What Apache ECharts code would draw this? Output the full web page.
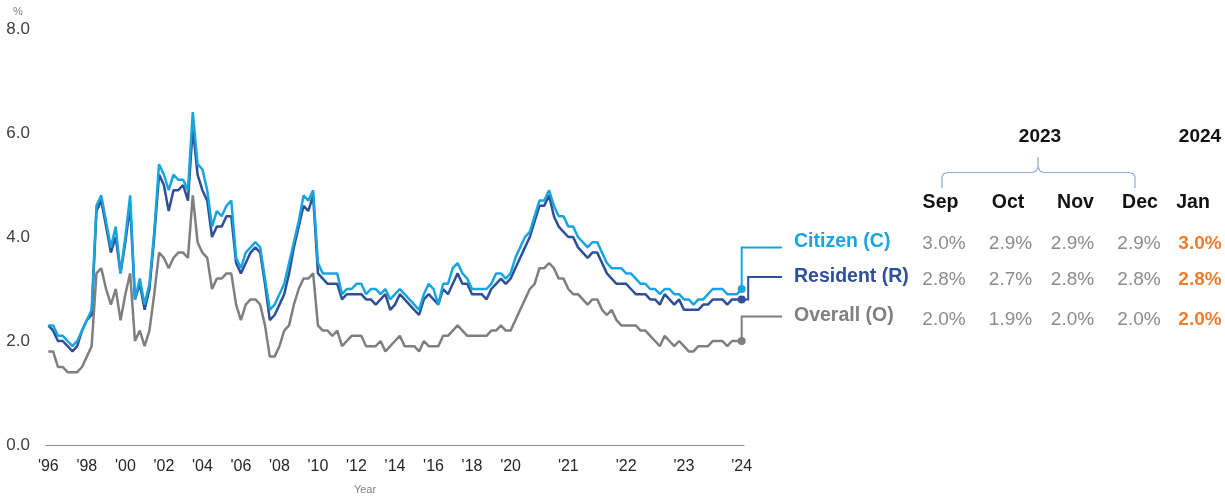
<!DOCTYPE html>
<html>
<head>
<meta charset="utf-8">
<title>Unemployment rate</title>
<script src="https://cdn.jsdelivr.net/npm/echarts@6/dist/echarts.min.js"></script>
<style>
  html, body { margin: 0; padding: 0; background: #ffffff; }
  #chart { width: 1225px; height: 497px; }
</style>
</head>
<body>
<div id="chart"></div>
<script>
// Seasonally adjusted unemployment rate (%):
// quarterly 1996 Q1 – 2019 Q4, then monthly Jan 2020 – Jan 2024.
const citizen = [
  2.3, 2.3, 2.1, 2.1, 2.0, 1.9, 2.0, 2.2, 2.4, 2.6,
  4.6, 4.8, 4.3, 3.8, 4.2, 3.3, 4.0, 4.8, 2.8, 3.2,
  2.7, 3.1, 4.1, 5.4, 5.2, 4.9, 5.2, 5.1, 5.1, 4.9,
  6.4, 5.4, 5.3, 4.9, 4.2, 4.5, 4.4, 4.6, 4.7, 3.6,
  3.4, 3.7, 3.8, 3.9, 3.8, 3.2,
  2.6, 2.7, 2.9, 3.1, 3.5, 3.9, 4.3, 4.8, 4.7, 4.9, 3.5,
  3.3, 3.3, 3.3, 3.3, 2.9, 3.0, 3.0, 3.1, 3.1,
  2.9, 3.0, 3.0, 2.9, 3.0, 2.8, 2.9, 3.0, 2.9, 2.8, 2.7, 2.6,
  2.9, 3.1, 3.0, 2.7, 3.1, 3.1, 3.4, 3.5, 3.3, 3.2, 3.0, 3.0, 3.0, 3.0, 3.1, 3.3, 3.3, 3.2, 3.3, 3.6,
  3.8, 4.0, 4.1, 4.4, 4.7, 4.7, 4.9, 4.6, 4.4, 4.4, 4.2, 4.2, 4.0, 3.9, 3.8, 3.9, 3.9, 3.7, 3.5, 3.4, 3.4, 3.4, 3.3, 3.3, 3.2,
  3.1, 3.1, 3.0, 3.0, 2.9, 3.0, 3.0, 2.9, 2.9, 2.8, 2.8, 2.7, 2.8, 2.8, 2.9, 3.0, 3.0, 3.0, 2.9, 2.9, 2.9, 3.0
];
const resident = [
  2.3, 2.2, 2.0, 2.0, 1.9, 1.8, 1.9, 2.2, 2.4, 2.5,
  4.5, 4.7, 4.2, 3.7, 4.0, 3.3, 3.9, 4.6, 2.8, 3.1,
  2.6, 3.0, 4.0, 5.2, 5.0, 4.5, 4.9, 4.9, 5.0, 4.7,
  6.1, 5.2, 4.9, 4.7, 4.0, 4.2, 4.2, 4.4, 4.4, 3.5,
  3.3, 3.5, 3.7, 3.8, 3.7, 3.1,
  2.4, 2.5, 2.7, 2.9, 3.3, 3.8, 4.2, 4.6, 4.5, 4.8, 3.3,
  3.2, 3.1, 3.1, 3.1, 2.8, 2.9, 2.9, 2.9, 2.9,
  2.8, 2.8, 2.7, 2.8, 2.9, 2.6, 2.7, 2.9, 2.8, 2.7, 2.6, 2.5,
  2.8, 2.9, 2.8, 2.7, 3.0, 2.9, 3.1, 3.3, 3.1, 3.1, 2.9, 2.9, 2.9, 2.8, 3.0, 3.1, 3.2, 3.1, 3.2, 3.4,
  3.6, 3.8, 4.0, 4.3, 4.6, 4.6, 4.8, 4.4, 4.2, 4.1, 4.0, 4.0, 3.8, 3.7, 3.6, 3.7, 3.7, 3.5, 3.3, 3.2, 3.1, 3.1, 3.1, 3.0, 2.9,
  2.9, 2.9, 2.8, 2.8, 2.7, 2.9, 2.8, 2.7, 2.8, 2.6, 2.6, 2.6, 2.6, 2.7, 2.7, 2.8, 2.8, 2.8, 2.7, 2.8, 2.8, 2.8
];
const overall = [
  1.8, 1.8, 1.5, 1.5, 1.4, 1.4, 1.4, 1.5, 1.7, 1.9,
  3.3, 3.4, 3.0, 2.7, 3.0, 2.4, 2.9, 3.3, 2.0, 2.2,
  1.9, 2.2, 2.9, 3.7, 3.6, 3.4, 3.6, 3.7, 3.7, 3.6,
  4.8, 3.9, 3.7, 3.6, 3.0, 3.2, 3.2, 3.3, 3.3, 2.7,
  2.4, 2.7, 2.8, 2.8, 2.7, 2.3,
  1.7, 1.7, 1.9, 2.2, 2.3, 2.7, 3.0, 3.2, 3.2, 3.3, 2.3,
  2.2, 2.2, 2.1, 2.2, 1.9, 2.0, 2.1, 2.1, 2.1,
  1.9, 1.9, 1.9, 2.0, 1.8, 1.9, 2.0, 2.1, 1.9, 1.9, 1.9, 1.8,
  2.0, 1.9, 1.9, 1.9, 2.1, 2.1, 2.2, 2.3, 2.2, 2.1, 2.1, 2.1, 2.1, 2.1, 2.2, 2.2, 2.3, 2.2, 2.2, 2.4,
  2.6, 2.8, 3.0, 3.1, 3.4, 3.4, 3.5, 3.4, 3.2, 3.2, 3.0, 2.9, 2.9, 2.8, 2.7, 2.8, 2.8, 2.6, 2.5, 2.6, 2.4, 2.3, 2.3, 2.3, 2.3,
  2.2, 2.2, 2.1, 2.0, 1.9, 2.1, 2.0, 1.9, 2.0, 1.9, 1.8, 1.8, 1.9, 1.9, 1.9, 2.0, 2.0, 2.0, 1.9, 2.0, 2.0, 2.0
];

// Category axis: one entry per reading
const monthNames = ['Jan', 'Feb', 'Mar', 'Apr', 'May', 'Jun', 'Jul', 'Aug', 'Sep', 'Oct', 'Nov', 'Dec'];
const periods = [];
for (let y = 1996; y <= 2019; y++) {
  for (let q = 1; q <= 4; q++) periods.push(y + ' Q' + q);
}
for (let y = 2020; y <= 2024; y++) {
  for (let m = 0; m < 12; m++) {
    if (y === 2024 && m > 0) break;
    periods.push(monthNames[m] + ' ' + y);
  }
}

// Periods that carry a year label on the axis
const tickPeriods = ['1996 Q1', '1998 Q1', '2000 Q1', '2002 Q1', '2004 Q1', '2006 Q1', '2008 Q1',
  '2010 Q1', '2012 Q1', '2014 Q1', '2016 Q1', '2018 Q1',
  'Jan 2020', 'Jan 2021', 'Jan 2022', 'Jan 2023', 'Jan 2024'];
const tickLabels = ["'96", "'98", "'00", "'02", "'04", "'06", "'08", "'10", "'12", "'14", "'16", "'18",
  "'20", "'21", "'22", "'23", "'24"];
const yTicks = [0, 2, 4, 6, 8];

const FONT = '"Liberation Sans", Arial, sans-serif';
const C_CIT = '#18a5df';
const C_RES = '#2f4f97';
const C_OVR = '#7f7f7f';
const C_VAL = '#8c8c8c';
const C_NEW = '#ed7d31';

const seriesDefs = [
  { name: 'Overall (O)', data: overall, color: C_OVR },
  { name: 'Resident (R)', data: resident, color: C_RES },
  { name: 'Citizen (C)', data: citizen, color: C_CIT }
];
const LAST = periods.length - 1;

const chart = echarts.init(document.getElementById('chart'), null, { renderer: 'canvas' });

chart.setOption({
  animation: false,
  backgroundColor: '#ffffff',
  textStyle: { fontFamily: FONT },
  grid: { left: 45.9, right: 480.9, top: 29, bottom: 52, containLabel: false },
  xAxis: {
    type: 'category',
    data: periods,
    boundaryGap: true,
    axisLine: { show: true, lineStyle: { color: '#8c8c8c', width: 1 } },
    axisTick: { show: false },
    splitLine: { show: false },
    axisLabel: {
      interval: 0,
      margin: 14,
      fontSize: 16,
      color: '#262626',
      fontFamily: FONT,
      formatter: function (v) {
        const k = tickPeriods.indexOf(v);
        return k >= 0 ? tickLabels[k] : '';
      }
    }
  },
  yAxis: {
    type: 'value',
    min: yTicks[0],
    max: yTicks[yTicks.length - 1],
    interval: 2,
    axisLine: { show: false },
    axisTick: { show: false },
    splitLine: { show: false },
    axisLabel: {
      margin: 16,
      fontSize: 17,
      color: '#404040',
      fontFamily: FONT,
      formatter: function (v) { return v.toFixed(1); }
    }
  },
  series: seriesDefs.map(function (s) {
    return {
      name: s.name,
      type: 'line',
      data: s.data,
      showSymbol: true,
      showAllSymbol: true,
      symbol: 'circle',
      symbolSize: function (v, p) { return p.dataIndex === LAST ? 8 : 0; },
      itemStyle: { color: s.color },
      lineStyle: { color: s.color, width: 2.5 },
      emphasis: { disabled: true },
      silent: true,
      z: 2
    };
  })
});

// Right-hand summary: last five readings of each series
const recent = periods.slice(-5);
const headMonths = recent.map(function (p) { return p.split(' ')[0]; });
const headX = [940.5, 1008, 1075.5, 1140, 1193];
const valX = [944, 1010.5, 1072.5, 1139, 1200];

const rows = [
  { label: 'Citizen (C)', data: citizen, color: C_CIT, labelY: 241.5, valY: 243.5, legY: 247.5, dx: 0 },
  { label: 'Resident (R)', data: resident, color: C_RES, labelY: 277, valY: 279.5, legY: 277, dx: 6.5 },
  { label: 'Overall (O)', data: overall, color: C_OVR, labelY: 316, valY: 320, legY: 316.5, dx: 0 }
];

function txt(text, x, y, opt) {
  return {
    type: 'text',
    x: x, y: y,
    silent: true,
    style: {
      text: text,
      fill: opt.color,
      fontSize: opt.size,
      fontWeight: opt.bold ? 'bold' : 'normal',
      fontFamily: FONT,
      align: opt.align || 'center',
      verticalAlign: 'middle',
      textAlign: opt.align || 'center',
      textVerticalAlign: 'middle'
    }
  };
}

const graphics = [];
graphics.push(txt('%', 18, 12, { color: '#7f7f7f', size: 11 }));
graphics.push(txt('Year', 365, 490, { color: '#7f7f7f', size: 11 }));

// Year headers and brace over the 2023 months
graphics.push(txt(recent[0].split(' ')[1], 1040, 137, { color: '#111', size: 19, bold: true }));
graphics.push(txt(recent[4].split(' ')[1], 1200, 137, { color: '#111', size: 19, bold: true }));
graphics.push({
  type: 'polyline',
  silent: true,
  shape: {
    points: [[942, 188], [942, 177], [943.5, 174], [947, 172.5], [1032, 172.5], [1036, 171], [1038, 167], [1038, 157],
      [1038, 167], [1040, 171], [1044, 172.5], [1130, 172.5], [1133.5, 174], [1135, 177], [1135, 188]]
  },
  style: { stroke: '#8eaad6', lineWidth: 1.2, fill: null }
});

headMonths.forEach(function (m, i) {
  graphics.push(txt(m, headX[i], 203, { color: '#111', size: 19.5, bold: true }));
});

rows.forEach(function (r) {
  graphics.push(txt(r.label, 794, r.labelY, { color: r.color, size: 19.5, bold: true, align: 'left' }));
  r.data.slice(-5).forEach(function (v, i) {
    const isNew = i === 4;
    graphics.push(txt(v.toFixed(1) + '%', valX[i], r.valY, {
      color: isNew ? C_NEW : C_VAL, size: 19, bold: isNew
    }));
  });
  // connector from the latest reading to its row label
  const p = chart.convertToPixel({ xAxisIndex: 0, yAxisIndex: 0 }, [LAST, r.data[LAST]]);
  const pts = [[p[0], p[1]]];
  if (r.dx) pts.push([p[0] + r.dx, p[1]]);
  pts.push([p[0] + r.dx, r.legY]);
  pts.push([782, r.legY]);
  graphics.push({
    type: 'polyline',
    silent: true,
    z: 1,
    shape: { points: pts },
    style: { stroke: r.color, lineWidth: 2, fill: null }
  });
});

chart.setOption({ graphic: graphics });
</script>
</body>
</html>
